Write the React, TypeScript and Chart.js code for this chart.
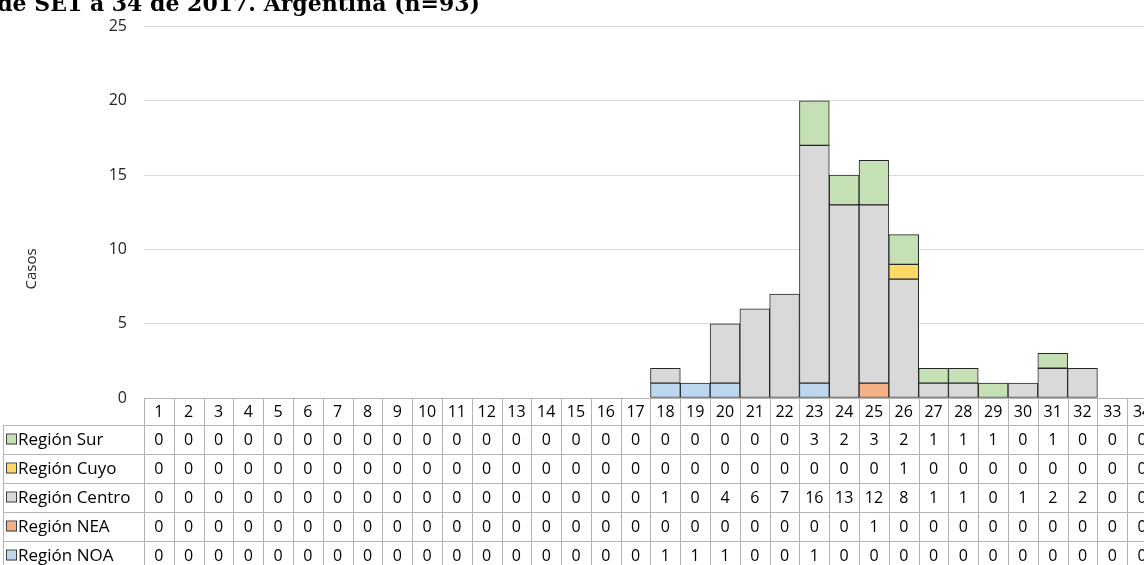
import React, { useEffect, useRef } from "react";
import { Chart, registerables } from "chart.js";
Chart.register(...registerables);

const weeks = ["1","2","3","4","5","6","7","8","9","10","11","12","13","14","15","16","17","18","19","20","21","22","23","24","25","26","27","28","29","30","31","32","33","34"];

const regionSur    = [0,0,0,0,0,0,0,0,0,0,0,0,0,0,0,0,0,0,0,0,0,0,3,2,3,2,1,1,1,0,1,0,0,0];
const regionCuyo   = [0,0,0,0,0,0,0,0,0,0,0,0,0,0,0,0,0,0,0,0,0,0,0,0,0,1,0,0,0,0,0,0,0,0];
const regionCentro = [0,0,0,0,0,0,0,0,0,0,0,0,0,0,0,0,0,1,0,4,6,7,16,13,12,8,1,1,0,1,2,2,0,0];
const regionNEA    = [0,0,0,0,0,0,0,0,0,0,0,0,0,0,0,0,0,0,0,0,0,0,0,0,1,0,0,0,0,0,0,0,0,0];
const regionNOA    = [0,0,0,0,0,0,0,0,0,0,0,0,0,0,0,0,0,1,1,1,0,0,1,0,0,0,0,0,0,0,0,0,0,0];

const seriesNames = ["Región NOA", "Región NEA", "Región Centro", "Región Cuyo", "Región Sur"];
const seriesValues = [regionNOA, regionNEA, regionCentro, regionCuyo, regionSur];
const seriesColors = ["#bdd7ee", "#f4b183", "#d9d9d9", "#ffd966", "#c5e0b4"];

const titleText = "Casos confirmados por región de SE1 a 34 de 2017. Argentina (n=93)";
const yAxisTitle = "Casos";

const FONT = "'Open Sans', sans-serif";
const TEXT_SIZE = 16;
const LABEL_SIZE = 17;

const tablePlugin = {
  id: "dataTable",
  afterDraw(chart: any) {
    const ctx = chart.ctx as CanvasRenderingContext2D;
    const xs = chart.scales.x;
    const area = chart.chartArea;
    const colW = xs.getPixelForValue(1) - xs.getPixelForValue(0);
    const firstLeft = xs.getPixelForValue(0) - colW / 2;
    const lastRight = xs.getPixelForValue(weeks.length - 1) + colW / 2;
    const headTop = area.bottom;
    const headBottom = headTop + 27;
    const rowH = 29;
    const tableLeft = 3;
    const rows = seriesNames.map((n, i) => ({ name: n, values: seriesValues[i], color: seriesColors[i] })).reverse();
    const bottom = headBottom + rowH * rows.length;

    ctx.save();
    ctx.strokeStyle = "#b4b4b4";
    ctx.lineWidth = 1;
    ctx.beginPath();
    const hl = (x1: number, x2: number, y: number) => { ctx.moveTo(x1, Math.round(y) + 0.5); ctx.lineTo(x2, Math.round(y) + 0.5); };
    const vl = (x: number, y1: number, y2: number) => { ctx.moveTo(Math.round(x) + 0.5, y1); ctx.lineTo(Math.round(x) + 0.5, y2); };
    hl(firstLeft, lastRight, headTop);
    for (let r = 0; r <= rows.length; r++) hl(tableLeft, lastRight, headBottom + r * rowH);
    for (let i = 0; i <= weeks.length; i++) vl(firstLeft + i * colW, headTop, bottom);
    vl(tableLeft, headBottom, bottom);
    ctx.stroke();

    ctx.fillStyle = "#000";
    ctx.textBaseline = "middle";
    weeks.forEach((w, i) => {
      ctx.font = `${TEXT_SIZE}px ${FONT}`;
      ctx.textAlign = "center";
      ctx.fillText(w, xs.getPixelForValue(i), (headTop + headBottom) / 2 + 1);
    });
    rows.forEach((row, r) => {
      const cy = headBottom + r * rowH + rowH / 2 + 1;
      ctx.font = `${TEXT_SIZE}px ${FONT}`;
      ctx.textAlign = "center";
      ctx.fillStyle = "#000";
      row.values.forEach((v, i) => {
        ctx.fillText(String(v), xs.getPixelForValue(i), cy);
      });
      ctx.fillStyle = row.color;
      ctx.fillRect(6.5, cy - 6, 10, 10);
      ctx.strokeStyle = "#404040";
      ctx.strokeRect(6.5, cy - 6.5, 10, 10);
      ctx.fillStyle = "#000";
      ctx.textAlign = "left";
      ctx.font = `${LABEL_SIZE}px ${FONT}`;
      ctx.fillText(row.name, 18, cy);
    });

    ctx.save();
    ctx.translate(32, 269);
    ctx.rotate(-Math.PI / 2);
    ctx.font = `15px ${FONT}`;
    ctx.textAlign = "center";
    ctx.fillStyle = "#262626";
    ctx.fillText(yAxisTitle, 0, 0);
    ctx.restore();
    ctx.restore();
  },
};

export default function App() {
  const ref = useRef<HTMLCanvasElement>(null);
  useEffect(() => {
    const chart = new Chart(ref.current!, {
      type: "bar",
      data: {
        labels: weeks,
        datasets: seriesNames.map((name, i) => ({
          label: name,
          data: seriesValues[i].map((v) => (v === 0 ? null : v)),
          backgroundColor: seriesColors[i],
          borderColor: "#262626",
          borderWidth: 1,
          borderSkipped: false,
          barPercentage: 1,
          categoryPercentage: 1,
        })),
      },
      options: {
        responsive: false,
        animation: false,
        devicePixelRatio: 1,
        layout: { padding: { top: 21, left: 0, right: 0, bottom: 0 } },
        plugins: {
          legend: { display: false },
          tooltip: { enabled: false },
          title: { display: false },
        },
        scales: {
          x: {
            stacked: true,
            grid: { display: false },
            border: { display: false },
            ticks: { display: false },
            afterFit: (s: any) => { s.height = 167; },
          },
          y: {
            stacked: true,
            min: 0,
            max: 25,
            ticks: { stepSize: 5, padding: 17, color: "#262626", font: { family: FONT, size: TEXT_SIZE } },
            grid: { color: "#d9d9d9", drawTicks: false },
            border: { display: false },
            afterFit: (s: any) => { s.width = 144; },
          },
        },
      },
      plugins: [tablePlugin],
    } as any);
    return () => chart.destroy();
  }, []);

  return (
    <div style={{ position: "fixed", left: 0, top: 0, width: 1144, height: 565, overflow: "hidden", background: "#fff" }}>
      <canvas ref={ref} width={1157} height={565} style={{ position: "absolute", left: 0, top: 0, width: 1157, height: 565 }} />
      <div
        style={{
          position: "absolute",
          right: 664,
          top: -11,
          whiteSpace: "nowrap",
          fontFamily: "'DejaVu Serif', serif",
          fontWeight: "bold",
          fontSize: 22,
          color: "#000",
          lineHeight: "28px",
        }}
      >
        {titleText}
      </div>
    </div>
  );
}
